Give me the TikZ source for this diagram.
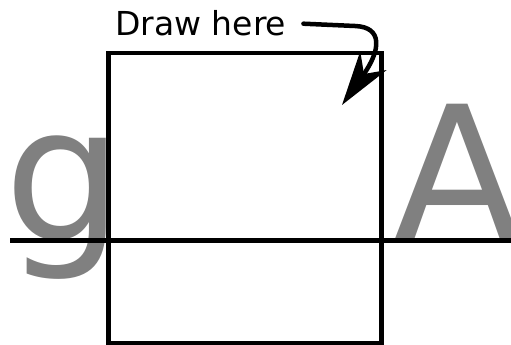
\documentclass[tikz,border=0pt]{standalone}
\usepackage{fontspec}
\setmainfont{DejaVu Sans}
\usetikzlibrary{arrows.meta,positioning}
\definecolor{ink}{HTML}{000000}
\definecolor{glyph}{HTML}{808080}

\begin{document}
\begin{tikzpicture}[
  x=1pt,
  y=-1pt,
  letter/.style={font=\fontsize{187}{187}\selectfont, text=glyph,
                 inner sep=0pt, anchor=base west},
  frame/.style={draw=ink, line width=4.5pt, inner sep=0pt,
                minimum width=273pt, minimum height=290pt},
  guide/.style={draw=ink, line width=5pt},
  hint/.style={font=\fontsize{33}{36}\selectfont, text=ink,
               inner sep=0pt, anchor=base west},
  pointer/.style={-{Stealth[length=54pt,width=32pt,inset=16pt]},
                  line width=4.5pt, color=ink, line cap=round},
]
\useasboundingbox (0,0) rectangle (511,345);

% grey letters sit behind the box and the line
\node[letter] (lowg) at (4,240) {g};
\node[letter] (capa) at (393,240) {A};

\node[frame] (box) at (245,198) {};
\coordinate (ruleleft) at (10,240);
\coordinate (ruleright) at (515,240);
\draw[guide] (ruleleft) -- (ruleright);

\node[hint] (label) at (115,36) {Draw here};
\coordinate (tail) at ([xshift=17pt]label.east);
\coordinate (tip) at (342,105);
\draw[pointer] (tail) -- (355,26) .. controls (383,27) and (381,50) .. (tip);

\end{tikzpicture}
\end{document}
